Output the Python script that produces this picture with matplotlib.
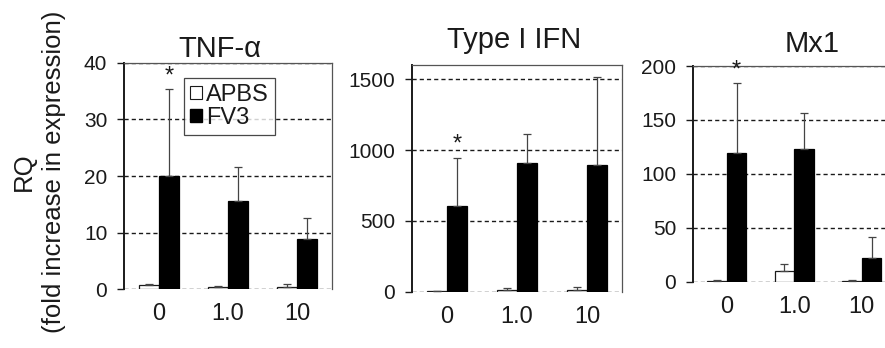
import numpy as np
import matplotlib
matplotlib.use("Agg")
import matplotlib.pyplot as plt
from matplotlib.patches import Patch

plt.rcParams['font.family'] = ['Liberation Sans', 'DejaVu Sans']

# doses on the x axis
doses = ['0', '1.0', '10']

# TNF-alpha
tnf_apbs = [0.8, 0.4, 0.4]
tnf_apbs_err = [0.2, 0.2, 0.5]
tnf_fv3 = [20.0, 15.6, 8.8]
tnf_fv3_err = [15.3, 6.0, 3.8]

# Type I IFN
ifn_apbs = [5, 15, 15]
ifn_apbs_err = [3, 10, 20]
ifn_fv3 = [603, 907, 897]
ifn_fv3_err = [341, 203, 617]

# Mx1
mx1_apbs = [1, 10, 1]
mx1_apbs_err = [0.5, 6, 0.5]
mx1_fv3 = [119, 123, 22]
mx1_fv3_err = [65, 33, 19]

titles = ['TNF-\u03b1', 'Type I IFN', 'Mx1']
ymaxes = [40, 1600, 200]
ysteps = [10, 500, 50]
signif = [[True, False, False], [True, False, False], [True, False, False]]

panels = [
    (tnf_apbs, tnf_apbs_err, tnf_fv3, tnf_fv3_err),
    (ifn_apbs, ifn_apbs_err, ifn_fv3, ifn_fv3_err),
    (mx1_apbs, mx1_apbs_err, mx1_fv3, mx1_fv3_err),
]

W, H = 885, 348
fig = plt.figure(figsize=(W / 100, H / 100), dpi=100)

# axes boxes in pixels: left, right, top, bottom
boxes = [(124, 332, 62.7, 289.3), (412, 622, 65, 291.7), (693, 895.5, 66, 281.7)]
# title centre x and baseline y in pixels
title_pos = [(220, 57), (514, 48), (812, 52)]

ink = '#1a1a1a'
bw = 0.29

for i, (apbs, apbs_err, fv3, fv3_err) in enumerate(panels):
    l, r, t, b = boxes[i]
    ax = fig.add_axes([l / W, 1 - b / H, (r - l) / W, (b - t) / H])
    x = np.arange(len(doses)) + 0.5
    ax.bar(x - bw / 2, apbs, bw, color='white', edgecolor=ink, linewidth=0.9, zorder=3)
    ax.bar(x + bw / 2, fv3, bw, color='black', edgecolor='black', linewidth=0.9, zorder=3)
    ax.errorbar(x - bw / 2, apbs, yerr=[np.zeros(3), apbs_err], fmt='none',
                ecolor='#444444', elinewidth=0.9, capsize=3, capthick=0.9, zorder=4)
    ax.errorbar(x + bw / 2, fv3, yerr=[np.zeros(3), fv3_err], fmt='none',
                ecolor='#444444', elinewidth=0.9, capsize=3, capthick=0.9, zorder=4)
    for j in range(len(doses)):
        if signif[i][j]:
            ax.annotate('*', (x[j] + bw / 2, fv3[j] + fv3_err[j]), xytext=(0, 1.5),
                        textcoords='offset points', ha='center', va='bottom',
                        fontsize=17, color=ink)
    ax.set_xlim(0, 3)
    ax.set_ylim(0, ymaxes[i])
    ticks = np.arange(0, ymaxes[i] + 1, ysteps[i])
    ticks = ticks[ticks <= ymaxes[i]]
    ax.set_yticks(ticks)
    ax.set_yticklabels([str(int(v)) for v in ticks], fontsize=15, color=ink)
    ax.set_xticks(x)
    ax.set_xticklabels(doses, fontsize=17, color=ink)
    ax.tick_params(axis='x', length=0, pad=10)
    ax.tick_params(axis='y', length=5, width=1, direction='out', pad=7, color=ink)
    ax.yaxis.grid(True, linestyle=(0, (3, 2.2)), color=ink, linewidth=1.0, zorder=1)
    ax.set_axisbelow(True)
    ax.spines['bottom'].set_visible(False)
    ax.spines['left'].set_linewidth(1.4)
    ax.spines['left'].set_color(ink)
    for s in ['top', 'right']:
        ax.spines[s].set_linewidth(0.9)
        ax.spines[s].set_color('#555555')
    fig.text(title_pos[i][0] / W, 1 - title_pos[i][1] / H, titles[i], ha='center',
             va='baseline', fontsize=21, color=ink)
    if i == 0:
        handles = [Patch(facecolor='white', edgecolor=ink, linewidth=0.8),
                   Patch(facecolor='black', edgecolor='black')]
        leg = ax.legend(handles, ['APBS', 'FV3'], loc='upper left',
                        bbox_to_anchor=((184 - l) / (r - l), (b - 78) / (b - t)),
                        fontsize=17, frameon=True, fancybox=False, handlelength=0.5,
                        handleheight=0.5, handletextpad=0.2, borderpad=0.25,
                        labelspacing=0.05, borderaxespad=0)
        leg.get_frame().set_edgecolor(ink)
        leg.get_frame().set_linewidth(0.9)
        for txt in leg.get_texts():
            txt.set_color(ink)

fig.text(39 / W, 1 - 172 / H, 'RQ\n(fold increase in expression)', rotation=90,
         ha='center', va='center', fontsize=18.5, linespacing=1.35, color=ink)

fig.savefig('out.png', dpi=100)
